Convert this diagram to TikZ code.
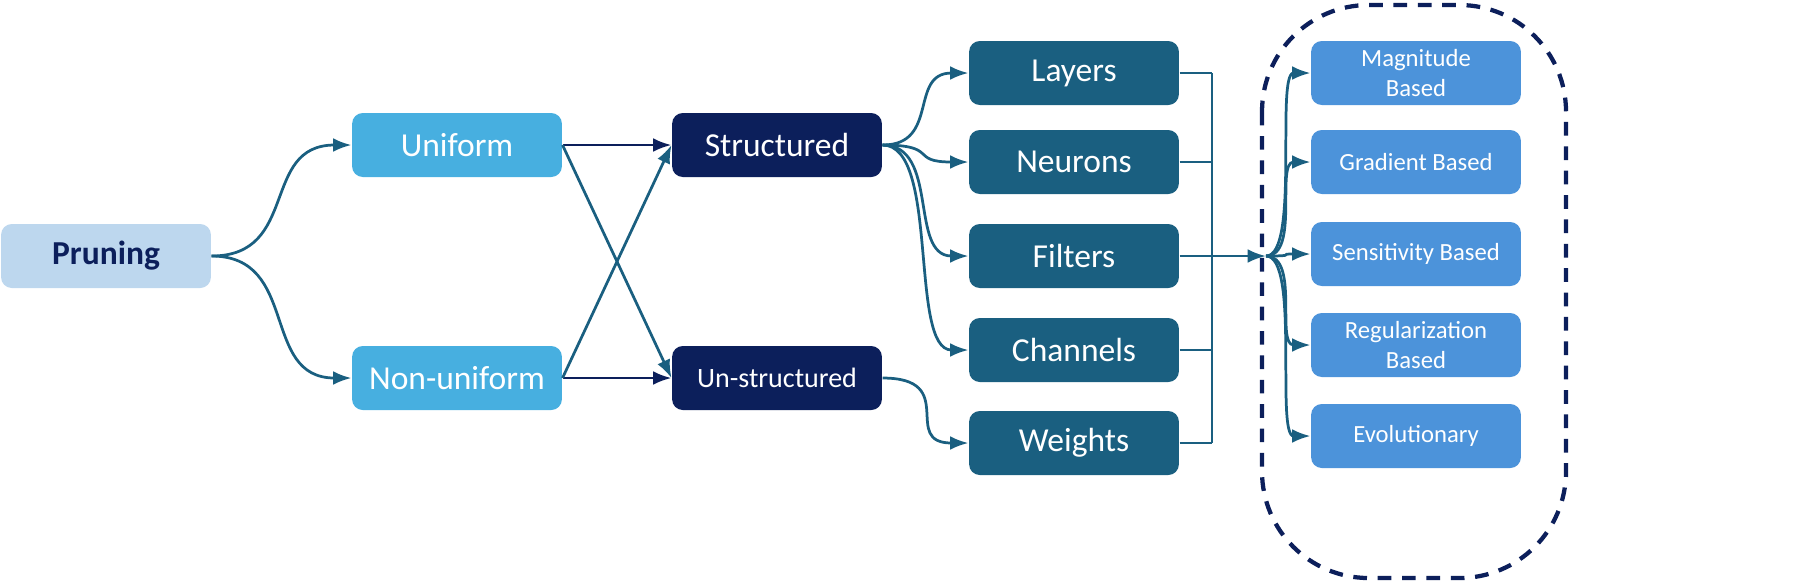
\documentclass[tikz,border=0pt]{standalone}
\usepackage{fontspec}
\setmainfont{Carlito}
\usetikzlibrary{arrows.meta,calc}
\definecolor{pl}{HTML}{BDD7EE}
\definecolor{nv}{HTML}{0C1F5B}
\definecolor{ub}{HTML}{47AFE0}
\definecolor{tb}{HTML}{1A5F80}
\definecolor{rb}{HTML}{4C93DA}
\begin{document}
\begin{tikzpicture}[x=0.011534cm,y=-0.011534cm,
 box/.style={rounded corners=3.5pt,minimum width=2.42cm,minimum height=0.738cm,inner sep=0pt,align=center},
 ln/.style={draw=tb,line width=0.9pt},
 ar/.style={ln,-{Latex[length=6pt,width=4.5pt]}},
 arn/.style={draw=nv,line width=0.9pt,-{Latex[length=6pt,width=4.5pt]}},
 big/.style={font=\fontsize{11}{13}\selectfont,text=white},
 sm/.style={font=\fontsize{8.1}{9.8}\selectfont,text=white}]
\node[box,fill=pl,text=nv,font=\fontsize{11}{13}\selectfont\bfseries] (pr) at (106,256) {Pruning};
\node[box,fill=ub,big] (u) at (457,145) {Uniform};
\node[box,fill=ub,big] (n) at (457,378) {Non-uniform};
\node[box,fill=nv,big] (s) at (777,145) {Structured};
\node[box,fill=nv,text=white,font=\fontsize{9.2}{11}\selectfont] (us) at (777,378) {Un-structured};
\foreach \nm/\t/\y in {la/Layers/73,ne/Neurons/162,fi/Filters/256,ch/Channels/350,we/Weights/443}
  \node[box,fill=tb,big] (\nm) at (1074,\y) {\t};
\foreach \nm/\t/\y in {ma/{Magnitude\\Based}/73,gr/{Gradient Based}/162,se/{Sensitivity Based}/254,re/{Regularization\\Based}/345,ev/{Evolutionary}/436}
  \node[box,fill=rb,sm] (\nm) at (1416,\y) {\t};
\draw[nv,line width=1.4pt,dash pattern=on 4.5pt off 3.5pt,rounded corners=35pt] (1262,5) rectangle (1566,578);
\draw[ar] (pr.east) .. controls (300,256) and (260,145) .. (u.west);
\draw[ar] (pr.east) .. controls (300,256) and (260,378) .. (n.west);
\draw[arn] (u.east) -- (s.west);
\draw[arn] (n.east) -- (us.west);
\draw[ar] (u.east) -- (us.west);
\draw[ar] (n.east) -- (s.west);
\foreach \t in {la,ne,fi,ch}
  \draw[ar] (s.east) .. controls (940,145) and ($(\t.west)+(-60,0)$) .. (\t.west);
\draw[ar] (us.east) .. controls (960,378) and (900,443) .. (we.west);
\coordinate (b1) at (1212,73);
\coordinate (b2) at (1212,443);
\coordinate (hub) at (1266,256);
\foreach \t in {la,ne,ch,we} \draw[ln] (\t.east) -- (\t.east -| b1);
\draw[ln] (b1) -- (b2);
\draw[ar] (fi.east) -- (hub);
\foreach \t in {ma,gr,se,re,ev}
  \draw[ar] (hub) .. controls (1300,256) and ($(\t.west)+(-35,0)$) .. (\t.west);
\pgfresetboundingbox
\useasboundingbox (0,0) rectangle (1800,583);
\end{tikzpicture}
\end{document}
